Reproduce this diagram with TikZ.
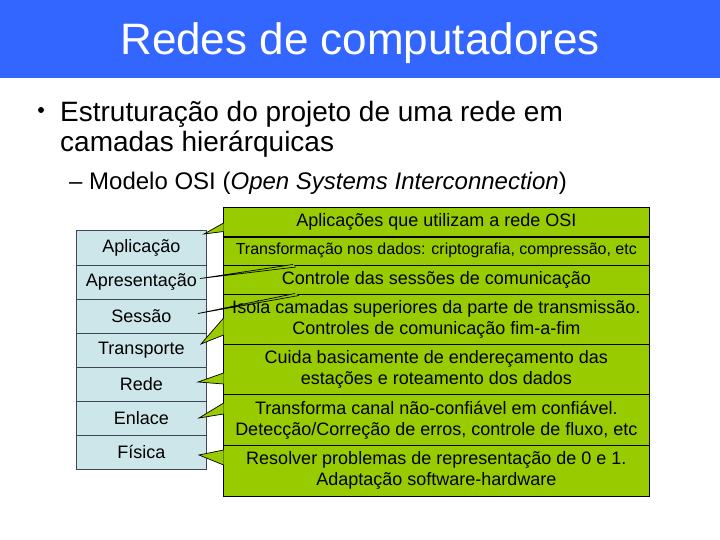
\documentclass[tikz,border=0pt]{standalone}
\usepackage{fontspec}
\setmainfont{Liberation Sans}
\usetikzlibrary{calc}
\definecolor{barblue}{RGB}{51,102,255}
\definecolor{layerblue}{RGB}{205,230,234}
\definecolor{descgreen}{RGB}{153,204,0}
\definecolor{layerline}{RGB}{60,70,85}
\begin{document}
\begin{tikzpicture}[x=1pt,y=-1pt,
  layer/.style={draw=layerline, line width=0.7pt, fill=layerblue,
    minimum width=130pt, minimum height=34pt, inner sep=0pt,
    font=\fontsize{18}{21}\selectfont, anchor=north west},
  desc/.style={draw=black, line width=0.7pt, fill=descgreen,
    minimum width=426pt, inner sep=0pt, align=center,
    font=\fontsize{18}{21}\selectfont, anchor=north west},
  ptredge/.style={draw=black, line width=0.7pt, line join=miter},
  txt/.style={anchor=base west, inner sep=0pt}]
\useasboundingbox (0,0) rectangle (720,540);
% title bar
\fill[barblue] (0,0) rectangle (720,78);
\node[anchor=base, inner sep=0pt, text=white, font=\fontsize{44}{50}\selectfont] (title) at (360,55) {Redes de computadores};
% bullets
\node[circle, fill=black, inner sep=0pt, minimum size=6pt] (dot) at (41,110) {};
\node[txt, font=\fontsize{28}{32}\selectfont] (line1) at (60,122) {Estruturação do projeto de uma rede em};
\node[txt, font=\fontsize{28}{32}\selectfont] (line2) at (60,152) {camadas hierárquicas};
\node[txt, font=\fontsize{24}{28}\selectfont] (sub) at (69,190) {– Modelo OSI (\textit{Open Systems Interconnection})};
% left layer stack
\node[layer] (l1) at (76,230.5) {Aplicação};
\node[layer] (l2) at (76,264.5) {Apresentação};
\node[layer] (l3) at (76,298.5) {Sessão};
\node[layer] (l4) at (76,332.5) {Transporte};
\node[layer] (l5) at (76,366.5) {Rede};
\node[layer] (l6) at (76,400.5) {Enlace};
\node[layer] (l7) at (76,434.5) {Física};
% right description stack
\node[desc, minimum height=29pt] (r1) at (223,207) {Aplicações que utilizam a rede OSI};
\node[desc, minimum height=29pt, font=\fontsize{16}{19}\selectfont] (r2) at (223,236) {Transformação nos dados: criptografia, compressão, etc};
\node[desc, minimum height=29pt] (r3) at (223,265) {Controle das sessões de comunicação};
\node[desc, minimum height=50pt] (r4) at (223,294) {Isola camadas superiores da parte de transmissão.\\Controles de comunicação fim-a-fim};
\node[desc, minimum height=50pt] (r5) at (223,344) {Cuida basicamente de endereçamento das\\estações e roteamento dos dados};
\node[desc, minimum height=51pt] (r6) at (223,394) {Transforma canal não-confiável em confiável.\\Detecção/Correção de erros, controle de fluxo, etc};
\node[desc, minimum height=51pt] (r7) at (223,445) {Resolver problemas de representação de 0 e 1.\\Adaptação software-hardware};
\draw[line width=1.8pt] (r1.south west) -- (r1.south east);
% callout pointers: tips and bases
\coordinate (t1) at (204,234);  \coordinate (a1) at (223.6,223); \coordinate (c1) at (223.6,231.5);
\coordinate (t2) at (200,278.5);\coordinate (a2) at (293,264.5); \coordinate (c2) at (296,267);
\coordinate (t3) at (198,313.5);\coordinate (a3) at (295,293.5); \coordinate (c3) at (299,295.5);
\coordinate (t4) at (201,344);  \coordinate (a4) at (223.6,318); \coordinate (c4) at (223.6,335);
\coordinate (t5) at (198,382);  \coordinate (a5) at (223.6,373); \coordinate (c5) at (223.6,384);
\coordinate (t6) at (199,418);  \coordinate (a6) at (223.6,403); \coordinate (c6) at (223.6,414);
\coordinate (t7) at (199,455);  \coordinate (a7) at (223.6,450); \coordinate (c7) at (223.6,465);
\foreach \i in {1,...,7}{
  \fill[descgreen] (a\i) -- (t\i) -- (c\i) -- cycle;
  \draw[ptredge] (a\i) -- (t\i) -- (c\i);
}
\end{tikzpicture}
\end{document}
